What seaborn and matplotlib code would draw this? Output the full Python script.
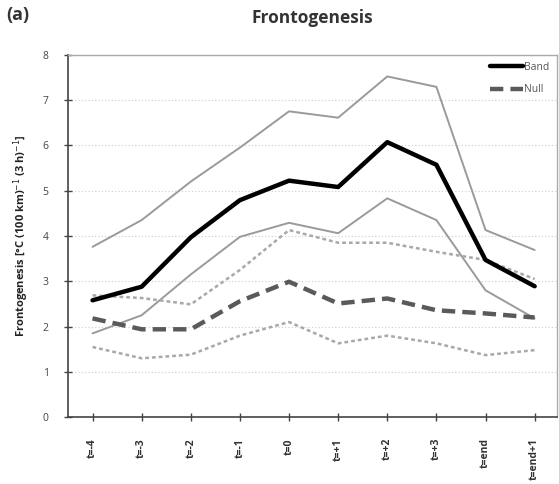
import matplotlib
matplotlib.use("Agg")
import matplotlib.pyplot as plt
import seaborn as sns
import pandas as pd
import numpy as np

categories = ["t=-4", "t=-3", "t=-2", "t=-1", "t=0", "t=+1", "t=+2", "t=+3", "t=end", "t=end+1"]
band_mean = [2.58, 2.88, 3.97, 4.79, 5.22, 5.08, 6.07, 5.57, 3.47, 2.89]
band_upper = [3.76, 4.35, 5.2, 5.95, 6.75, 6.61, 7.52, 7.29, 4.13, 3.69]
band_lower = [1.85, 2.25, 3.15, 3.98, 4.29, 4.06, 4.83, 4.35, 2.8, 2.18]
null_mean = [2.18, 1.94, 1.94, 2.56, 2.99, 2.51, 2.62, 2.36, 2.29, 2.2]
null_upper = [2.69, 2.63, 2.49, 3.25, 4.13, 3.85, 3.85, 3.65, 3.47, 3.05]
null_lower = [1.55, 1.3, 1.38, 1.8, 2.1, 1.63, 1.8, 1.63, 1.37, 1.48]

sns.set_style("white")
plt.rcParams['font.family'] = ['Open Sans', 'DejaVu Sans']

fig = plt.figure(figsize=(5.59, 4.84), dpi=100)
ax = fig.add_axes([0.1216, 0.138, 0.8744, 0.749])

x = np.arange(len(categories))
df = pd.DataFrame({"x": x, "band_mean": band_mean, "band_upper": band_upper,
                   "band_lower": band_lower, "null_mean": null_mean,
                   "null_upper": null_upper, "null_lower": null_lower})

sns.lineplot(data=df, x="x", y="band_upper", ax=ax, color="#9a9a9a", lw=1.4)
sns.lineplot(data=df, x="x", y="band_lower", ax=ax, color="#9a9a9a", lw=1.4)
sns.lineplot(data=df, x="x", y="null_upper", ax=ax, color="#a8a8a8", lw=1.8, linestyle=(0, (1.5, 1.2)))
sns.lineplot(data=df, x="x", y="null_lower", ax=ax, color="#a8a8a8", lw=1.8, linestyle=(0, (1.5, 1.2)))
sns.lineplot(data=df, x="x", y="null_mean", ax=ax, color="#5a5a5a", lw=3.2, linestyle=(0, (3, 1.6)), label="Null")
sns.lineplot(data=df, x="x", y="band_mean", ax=ax, color="#000000", lw=3.2, label="Band")

ax.set_xlim(-0.5, 9.45)
ax.set_ylim(0, 8)
ax.set_yticks(range(0, 9))
ax.set_xticks(x)
ax.set_xticklabels(categories, rotation=90, fontsize=7.5, color="#333333", fontweight="bold")
ax.tick_params(axis="y", labelsize=7.5, labelcolor="#444444", color="#444444", direction="inout",
               length=6, width=1, left=True, pad=11)
ax.tick_params(axis="x", direction="inout", length=6, width=1, bottom=True, color="#444444", pad=12)
ax.set_xlabel("")
ax.set_ylabel("Frontogenesis [°C (100 km)$^{-1}$ (3 h)$^{-1}$]", fontsize=8, fontweight="bold",
              labelpad=8, color="#222222")
ax.yaxis.grid(True, color="#cccccc", linestyle=(0, (1, 2)), lw=0.8)
for s in ["left", "bottom"]:
    ax.spines[s].set_color("#444444")
    ax.spines[s].set_linewidth(1.2)
for s in ["top", "right"]:
    ax.spines[s].set_color("#aaaaaa")
    ax.spines[s].set_linewidth(1.0)

h, l = ax.get_legend_handles_labels()
leg = ax.legend(h[::-1], l[::-1], loc="upper right", frameon=False, fontsize=7.5,
                handlelength=3.2, handletextpad=0.1, labelspacing=1.1, borderaxespad=0.3)
for t in leg.get_texts():
    t.set_color("#555555")

fig.text(0.559, 0.963, "Frontogenesis", ha="center", va="center", fontsize=12.5, fontweight="bold", color="#333333")
fig.text(0.012, 0.968, "(a)", ha="left", va="center", fontsize=13, fontweight="bold", color="#333333")

fig.savefig("out.png", dpi=100)
